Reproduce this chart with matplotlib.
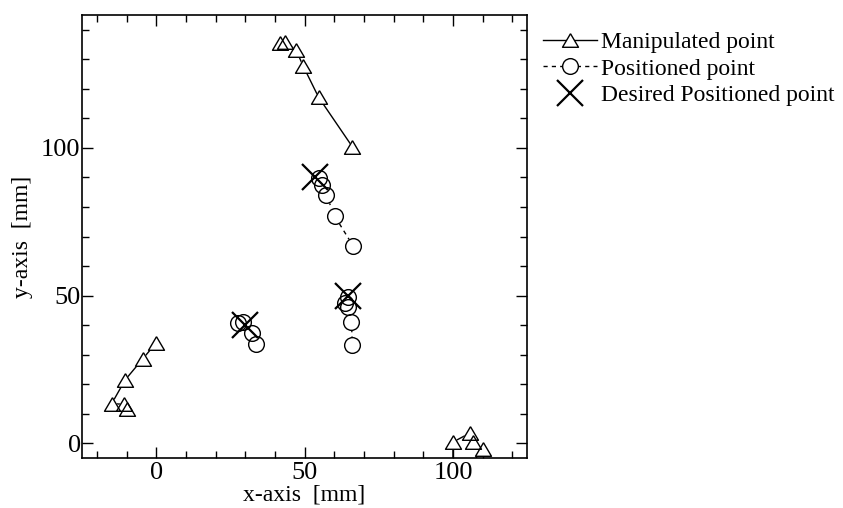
import matplotlib
matplotlib.use("Agg")
import matplotlib.pyplot as plt
from matplotlib.lines import Line2D
from matplotlib.ticker import MultipleLocator

matplotlib.rcParams["font.family"] = "serif"
matplotlib.rcParams["font.serif"] = ["Liberation Serif", "DejaVu Serif"]

# Manipulated point trajectories (triangles, solid line)
manip1_x = [0, -4.6, -10.5, -15, -11, -10]
manip1_y = [34, 28.5, 21.4, 13.4, 13.2, 11.6]
manip2_x = [41.7, 43.5, 47.1, 49.6, 54.7, 66.1]
manip2_y = [135.7, 136, 133.2, 127.6, 117.2, 100.4]
manip3_x = [100, 100, 105.8, 106.7, 110, 103]
manip3_y = [-12, 0.4, 3.5, 0.4, -1.8, -12]

# Positioned point trajectories (circles, dashed line)
pos1_x = [54.7, 55.8, 57.3, 60.1, 66.3]
pos1_y = [89.7, 87.5, 84.1, 77, 66.9]
pos2_x = [64.5, 63.7, 64.8, 65.8, 66.1]
pos2_y = [49.6, 47.4, 46.2, 41.1, 33.2]
pos3_x = [27.6, 29.3, 32.4, 33.6]
pos3_y = [40.8, 41.1, 37.4, 33.5]

# Desired positioned points
desired_x = [53.6, 64.5, 29.8]
desired_y = [90, 49.9, 40.2]

manip = [(manip1_x, manip1_y), (manip2_x, manip2_y), (manip3_x, manip3_y)]
pos = [(pos1_x, pos1_y), (pos2_x, pos2_y), (pos3_x, pos3_y)]

fig = plt.figure(figsize=(8.43, 5.08), dpi=100)
ax = fig.add_axes([0.0973, 0.0984, 0.528, 0.872])

dash = (0, (3, 3))
# flatter triangle than the stock "^"
tri_shape = [(0, 0.85), (-1, -0.85), (1, -0.85), (0, 0.85)]
tri_m = dict(marker=tri_shape, markersize=11.5, markeredgewidth=1.0)
circ_m = dict(marker="o", markersize=11.3, markeredgewidth=1.0)

# lines first, then white-filled markers to hide the lines, then outlines on top
for x, y in manip:
    ax.plot(x, y, color="black", linewidth=1.0, zorder=2)
for x, y in pos:
    ax.plot(x, y, color="black", linewidth=1.0, linestyle=dash, zorder=2)
for x, y in manip:
    ax.plot(x, y, ls="none", mfc="white", mec="white", zorder=3, **tri_m)
for x, y in pos:
    ax.plot(x, y, ls="none", mfc="white", mec="white", zorder=3, **circ_m)
for x, y in manip:
    ax.plot(x, y, ls="none", mfc="none", mec="black", zorder=4, **tri_m)
for x, y in pos:
    ax.plot(x, y, ls="none", mfc="none", mec="black", zorder=4, **circ_m)

ax.plot(desired_x, desired_y, linestyle="none", marker="x", markersize=19,
        markeredgewidth=1.6, color="black", zorder=5)

ax.set_xlim(-25, 125)
ax.set_ylim(-5, 145)
ax.xaxis.set_major_locator(MultipleLocator(50))
ax.xaxis.set_minor_locator(MultipleLocator(10))
ax.yaxis.set_major_locator(MultipleLocator(50))
ax.yaxis.set_minor_locator(MultipleLocator(10))
ax.tick_params(which="both", direction="in", top=True, right=True, labelsize=19, width=1.0)
ax.tick_params(axis="y", pad=1)
ax.tick_params(axis="x", pad=3)
ax.tick_params(which="major", length=8)
ax.tick_params(which="minor", length=5)
for sp in ax.spines.values():
    sp.set_linewidth(1.2)

ax.set_xlabel("x-axis  [mm]", fontsize=17, labelpad=0)
ax.set_ylabel("y-axis  [mm]", fontsize=17, labelpad=6)

handles = [
    Line2D([], [], color="black", linewidth=1.0, mfc="white", mec="black", **tri_m),
    Line2D([], [], color="black", linewidth=1.0, linestyle=dash, mfc="white", mec="black", **circ_m),
    Line2D([], [], color="black", linestyle="none", marker="x", markersize=19, markeredgewidth=1.6),
]
labels = ["Manipulated point", "Positioned point", "Desired Positioned point"]
fig.legend(handles, labels, loc="upper left", bbox_to_anchor=(0.644, 0.938),
           frameon=False, fontsize=17, handlelength=2.3, handletextpad=0.17,
           labelspacing=0.22, borderpad=0, borderaxespad=0)

fig.savefig("out.png", dpi=100)
